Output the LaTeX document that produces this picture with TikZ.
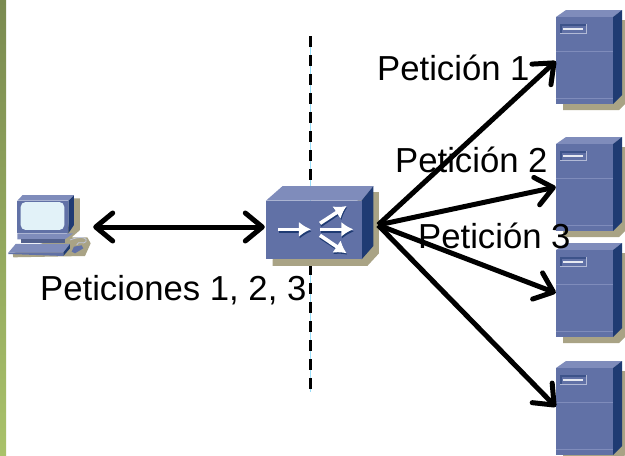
\documentclass[tikz,border=0pt]{standalone}
\usepackage{fontspec}
\setmainfont{Liberation Sans}
\usetikzlibrary{arrows.meta}
\definecolor{front}{HTML}{6171A6}
\definecolor{toplt}{HTML}{7F8CBB}
\definecolor{side}{HTML}{1F3B73}
\definecolor{shad}{HTML}{A9A385}
\definecolor{bartop}{HTML}{7A8A50}
\definecolor{barbot}{HTML}{A9C26A}
\tikzset{
  link/.style={line width=5pt,black,-{Straight Barb[length=17pt,width=28pt,line width=5pt,round]}},
  linkboth/.style={line width=5pt,black,{Straight Barb[length=17pt,width=28pt,line width=5pt,round]}-{Straight Barb[length=17pt,width=28pt,line width=5pt,round]}},
  lbl/.style={inner sep=0pt,font=\fontsize{34.7}{36}\selectfont,anchor=base west},
  pt/.style={inner sep=0pt,minimum size=0pt},
  sarrow/.style={line width=3.6pt,-{Latex[length=12pt,width=15pt]}}
}
\newcommand{\serverbox}[1]{%
  \begin{scope}[yshift=#1pt]
    \fill[shad] (563,104) -- (563,110) -- (619,110) -- (625,104) -- (625,20) -- (613,20) -- cycle;
    \fill[toplt] (556,17) -- (566,10) -- (622,10) -- (613,17) -- cycle;
    \fill[side] (613,17) -- (622,10) -- (622,95) -- (613,104) -- cycle;
    \fill[front] (556,17) rectangle (613,104);
    \draw[toplt,line width=1pt] (556,51) -- (613,51) (556,98) -- (613,98);
    \fill[toplt!60!white] (560,24) rectangle (587,34);
    \fill[side!55!front] (560,24) rectangle (586,33);
    \fill[front] (561.5,25.5) rectangle (586,33);
    \fill[white!85!front] (563,27.5) rectangle (583,30);
  \end{scope}}
\begin{document}
\begin{tikzpicture}[x=1pt,y=-1pt]
\useasboundingbox (0,0) rectangle (625,456);
\clip (0,0) rectangle (625,456);
\fill[white] (0,0) rectangle (625,456);
\fill[top color=bartop,bottom color=barbot] (0,0) rectangle (6,456);
% dashed separator
\coordinate (sepT) at (310,36);
\coordinate (sepB) at (310,392);
\draw[cyan!40!white,line width=0.9pt] (sepT) -- (sepB);
\draw[black,line width=3pt,dash pattern=on 11pt off 8pt] (sepT) -- (sepB);
% computer
\begin{scope}[shift={(0,180)},x=0.3333pt,y=-0.3333pt]
  \fill[shad] (222,55) -- (240,55) -- (240,150) -- (215,172) -- (262,172) -- (272,190) -- (255,228) -- (40,232) -- (38,220) -- (200,165) -- cycle;
  \fill[side] (205,62) -- (222,45) -- (222,135) -- (205,160) -- cycle;
  \fill[toplt] (52,62) -- (68,45) -- (222,45) -- (205,62) -- cycle;
  \fill[front] (52,62) rectangle (205,160);
  \fill[white!90!cyan!95!gray,rounded corners=5pt] (62,66) rectangle (193,150);
  \fill[toplt] (52,160) -- (205,160) -- (220,160) -- (195,178) -- (52,178) -- cycle;
  \fill[front!85!black] (62,178) rectangle (195,188);
  \fill[toplt] (47,192) -- (210,192) -- (190,218) -- (25,218) -- cycle;
  \fill[side] (190,218) -- (210,192) -- (210,205) -- (190,228) -- cycle;
  \fill[front] (25,218) -- (190,218) -- (190,228) -- (25,222) -- cycle;
  \draw[front!40!white,line width=0.8pt] (210,180) .. controls (245,165) and (265,175) .. (258,185) .. controls (250,195) and (235,180) .. (230,195);
  \fill[front] (222,200) -- (245,196) -- (250,205) -- (225,220) -- (215,215) -- cycle;
\end{scope}
% switch
\begin{scope}[shift={(250,170)},x=0.3333pt,y=-0.3333pt]
  \fill[shad] (68,268) -- (68,288) -- (352,288) -- (387,250) -- (387,66) -- (360,66) -- cycle;
  \fill[toplt] (48,92) -- (98,48) -- (370,48) -- (335,92) -- cycle;
  \fill[side] (335,92) -- (370,48) -- (370,228) -- (335,268) -- cycle;
  \fill[front] (48,92) rectangle (335,268);
  \begin{scope}[yshift=-1.3pt,xshift=0.6pt]
    \draw[side,sarrow] (85,180) -- (183,180);
    \draw[side,sarrow] (210,180) -- (310,180);
    \draw[side,sarrow] (210,162) -- (290,108);
    \draw[side,sarrow] (210,198) -- (290,250);
  \end{scope}
  \draw[white,sarrow] (85,178) -- (183,178);
  \draw[white,sarrow] (210,178) -- (310,178);
  \draw[white,sarrow] (210,160) -- (290,108);
  \draw[white,sarrow] (210,196) -- (290,250);
\end{scope}
% servers
\serverbox{0}
\serverbox{-127}
\serverbox{-233}
\serverbox{-351}
% anchors
\node[pt] (pc) at (93,227) {};
\node[pt] (swL) at (265,227) {};
\node[pt] (swR) at (378,225) {};
\node[pt] (s1) at (556,61) {};
\node[pt] (s2) at (556,187) {};
\node[pt] (s3) at (556,293) {};
\node[pt] (s4) at (556,407) {};
\draw[linkboth] (pc) -- (swL);
\draw[link] (swR) -- (s1);
\draw[link] (swR) -- (s2);
\draw[link] (swR) -- (s3);
\draw[link] (swR) -- (s4);
% labels
\node[lbl] (l0) at (40,300) {Peticiones 1, 2, 3};
\node[lbl] (l1) at (377,80) {Petición 1};
\node[lbl] (l2) at (395,172) {Petición 2};
\node[lbl] (l3) at (418,248) {Petición 3};
\end{tikzpicture}
\end{document}
